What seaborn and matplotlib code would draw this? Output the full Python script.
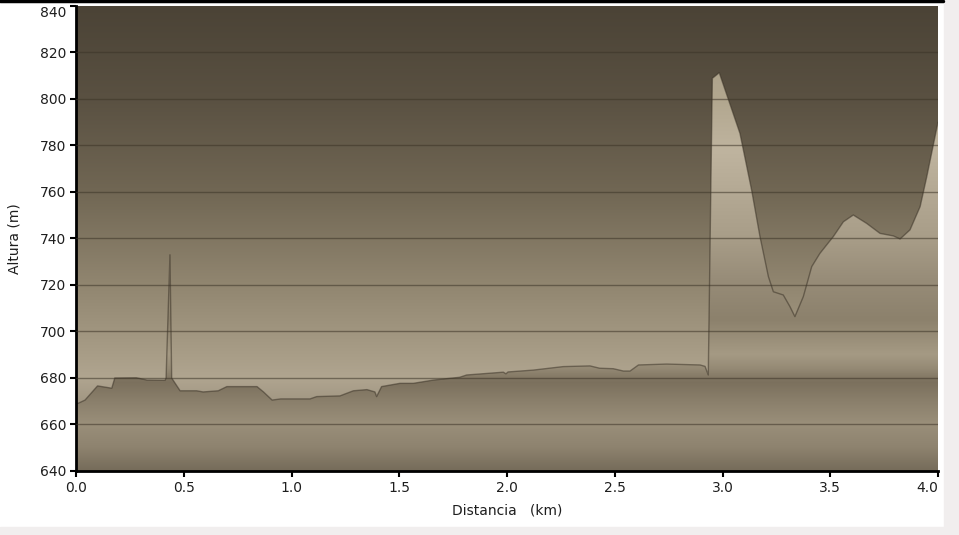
import numpy as np
import pandas as pd
import matplotlib.pyplot as plt
from matplotlib.colors import LinearSegmentedColormap
from matplotlib.lines import Line2D
from matplotlib.patches import Rectangle
import seaborn as sns

# elevation profile: distance (km) / altitude (m)
distancia = [0.0, 0.01, 0.042, 0.10, 0.166, 0.18, 0.28, 0.33, 0.413, 0.418, 0.436, 0.444,
             0.483, 0.56, 0.59, 0.66, 0.70, 0.84, 0.87, 0.91, 0.95, 1.086, 1.117, 1.225,
             1.287, 1.35, 1.387, 1.395, 1.418, 1.503, 1.565, 1.658, 1.78, 1.813, 1.983,
             1.995, 2.005, 2.122, 2.261, 2.385, 2.43, 2.493, 2.54, 2.571, 2.61, 2.741,
             2.896, 2.919, 2.934, 2.953, 2.985, 3.081, 3.135, 3.174, 3.213, 3.236, 3.282,
             3.313, 3.336, 3.375, 3.414, 3.452, 3.514, 3.561, 3.607, 3.669, 3.731, 3.793,
             3.824, 3.87, 3.917, 3.948, 4.0]
altura = [669, 669.1, 670.5, 676.6, 675.6, 680, 680.1, 679.1, 679, 680, 733, 680,
          674.5, 674.5, 674, 674.5, 676.3, 676.3, 674, 670.5, 671, 671, 672, 672.3,
          674.5, 675, 674, 672, 676.3, 677.7, 677.7, 679.1, 680.3, 681.3, 682.5,
          681.8, 682.6, 683.4, 684.9, 685.2, 684.2, 684, 683, 683, 685.6, 686,
          685.6, 685, 681.3, 808.9, 811.3, 785.2, 760.9, 740.8, 723.6, 717.1, 715.7,
          710.7, 706.4, 715, 727.9, 733.6, 740.8, 747.2, 750.1, 746.5, 742.2, 741.1,
          739.8, 743.7, 753.7, 766.6, 790]

x_ticks = [0.0, 0.5, 1.0, 1.5, 2.0, 2.5, 3.0, 3.5, 4.0]
y_ticks = [640, 660, 680, 700, 720, 740, 760, 780, 800, 820, 840]

# colour stops (altitude, colour) for the background and the filled profile
fondo_alt = [640, 680, 690, 720, 760, 800, 840]
fondo_col = ['#7a705e', '#b0a590', '#a89d87', '#918670', '#716754', '#5a5142', '#4b4336']
relleno_alt = [640, 650, 660, 670, 678, 684, 690, 705, 722, 740, 760, 778, 800, 840]
relleno_col = ['#766c5a', '#8e836f', '#9a8f7a', '#8a7f6b', '#7b705d', '#958a75', '#a59a84',
               '#8c816c', '#978c78', '#a89d88', '#b4a994', '#bfb49f', '#b2a78f', '#a69b85']

df = pd.DataFrame({'Distancia': distancia, 'Altura': altura})

sns.set_style("ticks")
plt.rcParams['font.family'] = ['DejaVu Sans']

fig = plt.figure(figsize=(9.59, 5.35), dpi=100)
fig.patch.set_facecolor('white')
fig.patches.append(Rectangle((944 / 959, 0), 1, 1, transform=fig.transFigure,
                             color='#f1eeee', zorder=0))
fig.patches.append(Rectangle((0, 0), 1, 8 / 535, transform=fig.transFigure,
                             color='#f1eeee', zorder=0))
fig.lines.append(Line2D([0, 943 / 959], [0.998, 0.998], transform=fig.transFigure,
                        color='black', lw=2.5))

ax = fig.add_axes([76 / 959, 64 / 535, 862 / 959, 465 / 535])
y0, y1 = 640, 840
x0, x1 = 0.0, 4.0


def gradiente(alts, cols):
    pos = [(a - y0) / (y1 - y0) for a in alts]
    pos = [min(max(p, 0), 1) for p in pos]
    return LinearSegmentedColormap.from_list('g', list(zip(pos, cols)))


grad = np.linspace(0, 1, 512).reshape(-1, 1)
ax.imshow(grad, cmap=gradiente(fondo_alt, fondo_col), origin='lower', aspect='auto',
          extent=[x0, x1, y0, y1], zorder=0, interpolation='bicubic')

poly = ax.fill_between(df['Distancia'], df['Altura'], y0, color='none', lw=0)
img = ax.imshow(grad, cmap=gradiente(relleno_alt, relleno_col), origin='lower',
                aspect='auto', extent=[x0, x1, y0, y1], zorder=1, interpolation='bicubic')
img.set_clip_path(poly.get_paths()[0], transform=ax.transData)

sns.lineplot(data=df, x='Distancia', y='Altura', ax=ax, sort=False, estimator=None,
             color='#352d22', lw=1.0, alpha=0.5, zorder=2)

for yt in y_ticks[1:-1]:
    ax.axhline(yt, color='#3c3427', lw=1.0, alpha=0.55, zorder=3)

ax.set_xlim(x0, x1)
ax.set_ylim(y0, y1)
ax.set_xticks(x_ticks)
ax.set_xticklabels([f'{t:.1f}' for t in x_ticks])
ax.set_yticks(y_ticks)
ax.set_yticklabels([str(t) for t in y_ticks])
ax.tick_params(direction='out', length=4, width=1.5, colors='black', labelsize=10,
               labelcolor='#1e1e1e', pad=3)
# the end labels are pushed inside the figure, as in the original
ax.get_xticklabels()[-1].set_horizontalalignment('right')
ax.get_yticklabels()[-1].set_verticalalignment('top')
for s in ['top', 'right']:
    ax.spines[s].set_visible(False)
for s in ['left', 'bottom']:
    ax.spines[s].set_linewidth(2)
    ax.spines[s].set_color('black')
ax.set_xlabel('Distancia   (km)', fontsize=10, color='#1e1e1e', labelpad=6)
ax.set_ylabel('Altura (m)', fontsize=10, color='#1e1e1e', labelpad=13)

fig.savefig('out.png', dpi=100)
